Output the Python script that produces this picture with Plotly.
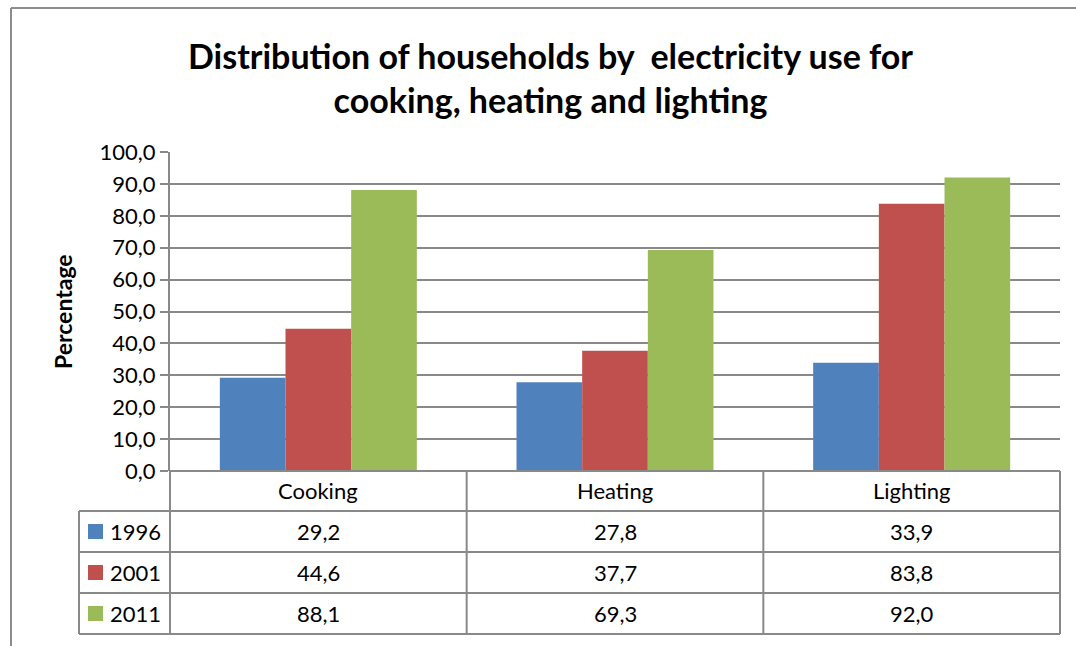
import plotly.graph_objects as go

# datos del gráfico
CATEGORIAS = ["Cooking", "Heating", "Lighting"]
ANIOS = ["1996", "2001", "2011"]
VALORES_1996 = [29.2, 27.8, 33.9]
VALORES_2001 = [44.6, 37.7, 83.8]
VALORES_2011 = [88.1, 69.3, 92.0]
COLORES = ["#4F81BD", "#C0504D", "#9BBB59"]

ANCHO, ALTO = 1076, 646
IZQ, DER, ARRIBA, ABAJO = 170, 1060, 152, 471
GRIS = "#898989"
FUENTE = "Lato, 'Noto Sans', sans-serif"


def px_x(px):
    return (px - IZQ) / (DER - IZQ)


def px_y(py):
    return (ABAJO - py) / (ABAJO - ARRIBA)


def fmt(v):
    return f"{v:.1f}".replace(".", ",")


series = [VALORES_1996, VALORES_2001, VALORES_2011]

fig = go.Figure()
for anio, valores, color in zip(ANIOS, series, COLORES):
    fig.add_trace(go.Bar(
        name=anio,
        x=CATEGORIAS,
        y=valores,
        marker=dict(color=color, line=dict(width=0)),
        showlegend=False))

formas = []
anotaciones = []

# filas de la tabla de datos
filas_y = [471, 511, 552, 593, 634]
linea = dict(color=GRIS, width=2)
for i, y in enumerate(filas_y):
    x0 = IZQ if i == 0 else 79
    formas.append(dict(type="line", xref="paper", yref="paper",
                       x0=px_x(x0), x1=px_x(DER), y0=px_y(y), y1=px_y(y),
                       line=linea))
# columnas
n = len(CATEGORIAS)
ancho_cat = (DER - IZQ) / n
for j in range(n + 1):
    x = IZQ + j * ancho_cat
    formas.append(dict(type="line", xref="paper", yref="paper",
                       x0=px_x(x), x1=px_x(x), y0=px_y(471), y1=px_y(634),
                       line=linea))
formas.append(dict(type="line", xref="paper", yref="paper",
                   x0=px_x(79), x1=px_x(79), y0=px_y(511), y1=px_y(634),
                   line=linea))

# marco exterior
formas.append(dict(type="line", xref="paper", yref="paper",
                   x0=px_x(11), x1=px_x(1090), y0=px_y(8), y1=px_y(8),
                   line=dict(color="#8c8c8c", width=2)))
formas.append(dict(type="line", xref="paper", yref="paper",
                   x0=px_x(11), x1=px_x(11), y0=px_y(8), y1=px_y(660),
                   line=dict(color="#8c8c8c", width=2)))

texto = dict(family=FUENTE, size=22, color="#000000")
for j, cat in enumerate(CATEGORIAS):
    xc = IZQ + (j + 0.5) * ancho_cat
    anotaciones.append(dict(text=cat, xref="paper", yref="paper",
                            x=px_x(xc), y=px_y(491), showarrow=False,
                            font=texto, xanchor="center", yanchor="middle"))
    for i, valores in enumerate(series):
        yc = (filas_y[i + 1] + filas_y[i + 2]) / 2
        anotaciones.append(dict(text=fmt(valores[j]), xref="paper", yref="paper",
                                x=px_x(xc), y=px_y(yc), showarrow=False,
                                font=texto, xanchor="center", yanchor="middle"))

for i, (anio, color) in enumerate(zip(ANIOS, COLORES)):
    yc = (filas_y[i + 1] + filas_y[i + 2]) / 2
    formas.append(dict(type="rect", xref="paper", yref="paper",
                       x0=px_x(88), x1=px_x(103), y0=px_y(yc - 7.5), y1=px_y(yc + 7.5),
                       fillcolor=color, line=dict(width=0)))
    anotaciones.append(dict(text=anio, xref="paper", yref="paper",
                            x=px_x(108), y=px_y(yc), showarrow=False,
                            font=texto, xanchor="left", yanchor="middle"))

# título y eje
anotaciones.append(dict(
    text="<b>Distribution of households by  electricity use for<br>cooking, heating and lighting</b>",
    xref="paper", yref="paper", x=px_x(550), y=px_y(78), showarrow=False,
    font=dict(family=FUENTE, size=34, color="#000000"),
    xanchor="center", yanchor="middle"))
anotaciones.append(dict(
    text="<b>Percentage</b>", xref="paper", yref="paper",
    x=px_x(63), y=px_y(312), showarrow=False, textangle=-90,
    font=dict(family=FUENTE, size=23, color="#000000"),
    xanchor="center", yanchor="middle"))

fig.update_layout(
    width=ANCHO,
    height=ALTO,
    margin=dict(l=IZQ, r=ANCHO - DER, t=ARRIBA, b=ALTO - ABAJO, pad=0),
    paper_bgcolor="#ffffff",
    plot_bgcolor="#ffffff",
    barmode="group",
    bargap=0.336,
    bargroupgap=0,
    separators=",.",
    shapes=formas,
    annotations=anotaciones,
    font=dict(family=FUENTE, size=22, color="#000000"))
fig.update_xaxes(showticklabels=False, showgrid=False, zeroline=False,
                 showline=False, range=[-0.5, 2.5])
fig.update_yaxes(range=[0, 100], dtick=10, tickformat=".1f",
                 showgrid=True, gridcolor=GRIS, gridwidth=2,
                 zeroline=False, showline=True, linecolor=GRIS, linewidth=2,
                 ticks="outside", ticklen=8, tickcolor=GRIS, tickwidth=2,
                 tickfont=dict(family=FUENTE, size=22, color="#000000"))

# sin margen en el cuerpo de la página
fig.write_html("out.html",
               config={"displayModeBar": False},
               post_script="document.body.style.margin='0';"
                           "document.body.style.overflow='hidden';")
